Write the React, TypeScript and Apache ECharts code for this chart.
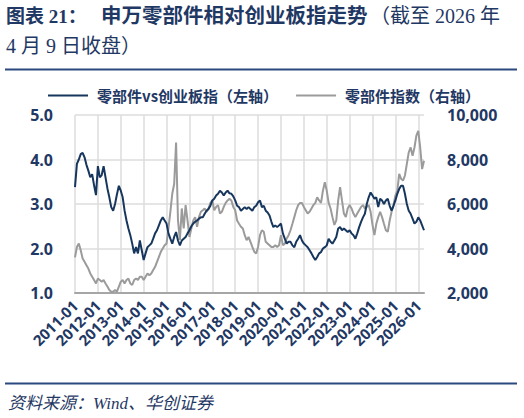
import { useEffect, useRef } from 'react';
import * as echarts from 'echarts';

// 月度数据：2011-01 至 2026-04
const startYear = 2011;
const monthCount = 184;
const months: string[] = [];
for (let i = 0; i < monthCount; i++) {
    const y = startYear + Math.floor(i / 12);
    const m = (i % 12) + 1;
    months.push(`${y}-${m < 10 ? '0' + m : m}`);
}

// 零部件 vs 创业板指（左轴）
const relativeRatio = [
    // 2011
    3.38, 3.9, 4.0, 4.12, 4.15, 4.05, 3.88, 3.75, 3.6, 3.67, 3.42, 3.2,
    // 2012
    3.85, 3.6, 3.65, 3.85, 3.6, 3.35, 3.15, 2.93, 2.85, 3.0, 3.22, 3.41,
    // 2013
    3.3, 3.15, 2.85, 2.63, 2.45, 2.3, 2.11, 1.89, 2.03, 1.89, 2.18, 1.96,
    // 2014
    1.74, 1.89, 2.03, 2.07, 2.11, 2.22, 2.34, 2.41, 2.52, 2.63, 2.7, 2.63,
    // 2015
    2.56, 2.34, 2.22, 2.11, 2.26, 2.37, 2.18, 2.07, 2.18, 2.22, 2.26, 2.34,
    // 2016
    2.41, 2.5, 2.56, 2.6, 2.63, 2.67, 2.7, 2.7, 2.78, 2.85, 2.89, 2.96,
    // 2017
    3.08, 3.12, 3.19, 3.23, 3.3, 3.26, 3.19, 3.26, 3.3, 3.24, 3.23, 3.17,
    // 2018
    3.08, 2.96, 2.93, 2.85, 2.89, 2.93, 2.89, 2.93, 2.89, 2.85, 2.93, 2.96,
    // 2019
    3.04, 3.08, 2.93, 2.96, 2.85, 2.81, 2.74, 2.6, 2.48, 2.52, 2.48, 2.52,
    // 2020
    2.56, 2.34, 2.22, 2.11, 2.15, 2.15, 2.07, 2.03, 2.15, 2.22, 2.3, 2.18,
    // 2021
    2.11, 2.07, 2.03, 1.96, 1.89, 1.81, 1.74, 1.81, 1.89, 1.92, 2.0, 2.03,
    // 2022
    2.07, 2.22, 2.15, 2.11, 2.18, 2.26, 2.45, 2.48, 2.41, 2.45, 2.41, 2.37,
    // 2023
    2.41, 2.34, 2.3, 2.22, 2.34, 2.48, 2.6, 2.7, 2.78, 3.0, 3.15, 3.26,
    // 2024
    3.19, 3.12, 3.15, 2.93, 3.12, 3.08, 3.0, 3.08, 3.12, 2.96, 2.85, 2.96,
    // 2025
    3.08, 3.23, 3.34, 3.41, 3.41, 3.23, 3.0, 2.85, 2.78, 2.67, 2.56, 2.6,
    // 2026
    2.7, 2.63, 2.52, 2.41
];

// 零部件指数（右轴）
const partsIndex = [
    // 2011
    3600, 4070, 4220, 3920, 3550, 3400, 3250, 3100, 2880, 2730, 2580, 2430,
    // 2012
    2650, 2580, 2510, 2580, 2430, 2290, 2135, 2060, 2060, 2135, 2060, 2290,
    // 2013
    2510, 2580, 2430, 2580, 2650, 2430, 2360, 2580, 2650, 2580, 2730, 2730,
    // 2014
    2580, 2730, 2880, 2800, 2880, 3030, 3175, 3400, 3625, 3850, 4000, 4150,
    // 2015
    4220, 4900, 5650, 6460, 6900, 8760, 5260, 4370, 5800, 4900, 5950, 5260,
    // 2016
    4520, 4900, 5260, 5410, 4980, 5410, 5650, 5720, 5800, 5650, 5800, 6050,
    // 2017
    6160, 5720, 5870, 5950, 5570, 5650, 5870, 6050, 6160, 6230, 6160, 5870,
    // 2018
    5720, 5260, 5110, 4980, 4900, 4600, 4370, 4520, 4300, 4070, 3850, 3775,
    // 2019
    4070, 4600, 4820, 4750, 4300, 4220, 4150, 4070, 4070, 4150, 4070, 4150,
    // 2020
    4600, 4150, 4220, 4450, 4600, 4820, 5110, 5410, 5720, 5950, 6050, 6050,
    // 2021
    5870, 5720, 5570, 5650, 5800, 5950, 6050, 6300, 6160, 6050, 6600, 6980,
    // 2022
    6600, 6050, 5800, 5410, 5060, 5260, 6160, 6760, 6160, 5570, 5410, 5800,
    // 2023
    5950, 5800, 5570, 5410, 5570, 5720, 5870, 5950, 5800, 5870, 5950, 5650,
    // 2024
    5060, 4600, 5110, 5410, 5650, 5410, 5110, 4820, 4750, 5260, 5650, 5950,
    // 2025
    6380, 6600, 7350, 7130, 7050, 7280, 7800, 8320, 8540, 8170, 8540, 9070,
    // 2026
    9290, 8540, 7570, 7940
];

const leftTicks = [1, 2, 3, 4, 5];
const rightTicks = [2000, 4000, 6000, 8000, 10000];

const NAVY = '#1f3864';
const LINE_NAVY = '#17365d';
const GRAY = '#9b9b9b';
const CJK = "'Noto Sans CJK SC', 'Noto Sans', sans-serif";
const SERIF_CJK = "'Liberation Serif', 'Noto Sans CJK SC', serif";
const NUM_FONT = "'Open Sans', 'Noto Sans', sans-serif";

const isYearStart = (idx: number) => idx % 12 === 0;

export default function App() {
    const chartRef = useRef<HTMLDivElement>(null);

    useEffect(() => {
        document.body.style.margin = '0';
        if (!chartRef.current) return;
        const chart = echarts.init(chartRef.current, undefined, { renderer: 'svg' });

        const option: echarts.EChartsOption = {
            animation: false,
            backgroundColor: '#ffffff',
            grid: { left: 75, right: 100, top: 115, bottom: 125, containLabel: false },
            legend: {
                left: 43,
                top: 83,
                itemWidth: 40,
                itemHeight: 2,
                itemGap: 18,
                icon: 'rect',
                textStyle: {
                    color: NAVY,
                    fontSize: 15,
                    lineHeight: 15,
                    fontWeight: 'bold',
                    fontFamily: CJK,
                    padding: [0, 0, 0, 4]
                },
                data: ['零部件vs创业板指（左轴）', '零部件指数（右轴）']
            },
            xAxis: {
                type: 'category',
                boundaryGap: false,
                data: months,
                axisLine: { lineStyle: { color: '#a6a6a6', width: 2 } },
                axisTick: { show: false },
                axisLabel: {
                    interval: (idx: number) => isYearStart(idx),
                    rotate: 45,
                    margin: 10,
                    color: NAVY,
                    fontSize: 15,
                    fontWeight: 'bold',
                    fontFamily: NUM_FONT
                },
                splitLine: {
                    show: true,
                    interval: (idx: number) => isYearStart(idx),
                    lineStyle: { color: '#dcdcdc', width: 1.5 }
                }
            },
            yAxis: [
                {
                    type: 'value',
                    min: leftTicks[0],
                    max: leftTicks[leftTicks.length - 1],
                    interval: 1,
                    axisLine: { show: false },
                    axisTick: { show: false },
                    axisLabel: {
                        margin: 22,
                        color: NAVY,
                        fontSize: 16,
                        lineHeight: 16,
                        fontWeight: 'bold',
                        fontFamily: NUM_FONT,
                        formatter: (v: number) => v.toFixed(1)
                    },
                    splitLine: { lineStyle: { color: '#dcdcdc', width: 1.5 } }
                },
                {
                    type: 'value',
                    min: rightTicks[0],
                    max: rightTicks[rightTicks.length - 1],
                    interval: 2000,
                    axisLine: { show: false },
                    axisTick: { show: false },
                    axisLabel: {
                        margin: 23,
                        color: NAVY,
                        fontSize: 16,
                        lineHeight: 16,
                        fontWeight: 'bold',
                        fontFamily: NUM_FONT,
                        formatter: (v: number) => v.toLocaleString('en-US')
                    },
                    splitLine: { show: false }
                }
            ],
            series: [
                {
                    name: '零部件vs创业板指（左轴）',
                    type: 'line',
                    yAxisIndex: 0,
                    symbol: 'none',
                    z: 3,
                    lineStyle: { color: LINE_NAVY, width: 2 },
                    itemStyle: { color: LINE_NAVY },
                    data: relativeRatio
                },
                {
                    name: '零部件指数（右轴）',
                    type: 'line',
                    yAxisIndex: 1,
                    symbol: 'none',
                    z: 2,
                    lineStyle: { color: GRAY, width: 2 },
                    itemStyle: { color: GRAY },
                    data: partsIndex
                }
            ],
            graphic: [
                {
                    type: 'text',
                    left: 6,
                    top: 7,
                    style: { text: '图表 21：', fill: NAVY, font: `bold 19px ${SERIF_CJK}` }
                },
                {
                    type: 'text',
                    left: 101,
                    top: 6,
                    style: { text: '申万零部件相对创业板指走势', fill: NAVY, font: `bold 20.5px ${SERIF_CJK}` }
                },
                {
                    type: 'text',
                    left: 370,
                    top: 6,
                    style: { text: '（截至 2026 年', fill: NAVY, font: `20px ${SERIF_CJK}` }
                },
                {
                    type: 'text',
                    left: 6,
                    top: 36,
                    style: { text: '4 月 9 日收盘）', fill: NAVY, font: `20px ${SERIF_CJK}` }
                },
                {
                    type: 'line',
                    shape: { x1: 5, y1: 69.5, x2: 517, y2: 69.5 },
                    style: { stroke: '#2a4a7f', lineWidth: 2 }
                },
                {
                    type: 'line',
                    shape: { x1: 5, y1: 383.5, x2: 517, y2: 383.5 },
                    style: { stroke: '#2a4a7f', lineWidth: 2 }
                },
                {
                    type: 'text',
                    left: 8,
                    top: 395,
                    style: {
                        text: '资料来源：Wind、华创证券',
                        fill: NAVY,
                        font: `italic 17px ${SERIF_CJK}`
                    }
                }
            ]
        };

        chart.setOption(option);
        return () => chart.dispose();
    }, []);

    return <div ref={chartRef} style={{ width: 524, height: 418 }} />;
}
